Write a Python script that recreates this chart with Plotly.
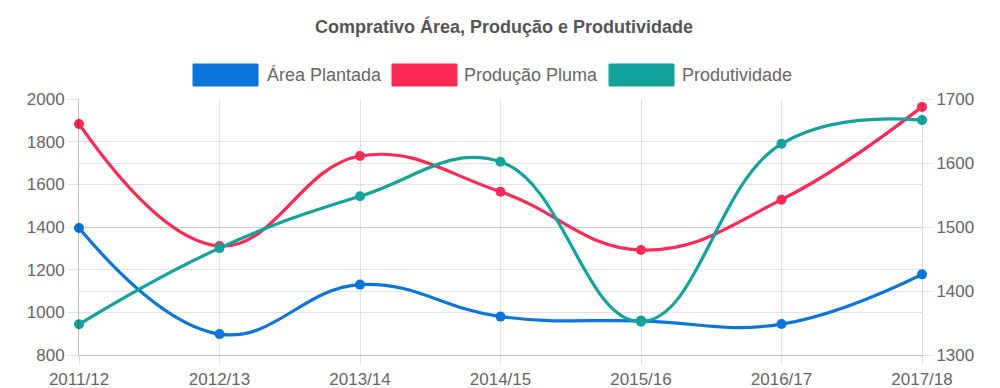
import plotly.graph_objects as go

categories = ["2011/12", "2012/13", "2013/14", "2014/15", "2015/16", "2016/17", "2017/18"]
area_plantada = [1395, 898, 1130, 980, 960, 945, 1178]
producao_pluma = [1883, 1311, 1733, 1565, 1292, 1528, 1963]
produtividade = [1348, 1467, 1548, 1602, 1352, 1630, 1667]

series_names = ["Área Plantada", "Produção Pluma", "Produtividade"]
series_colors = ["#0b75dc", "#fe2a55", "#14a29c"]
title_text = "Comprativo Área, Produção e Produtividade"

OFF = 8  # page body margin
W, H = 1000 - OFF, 388 - OFF
L, T = 79 - OFF, 99 - OFF
R = W - (922 - OFF)
B = H - (355 - OFF)
PW, PH = W - L - R, H - T - B

FONT = "Liberation Sans, Arial, Helvetica, sans-serif"
GRID = "rgba(0,0,0,0.11)"

fig = go.Figure()
for vals, name, color, axis in [
    (area_plantada, series_names[0], series_colors[0], "y"),
    (producao_pluma, series_names[1], series_colors[1], "y"),
    (produtividade, series_names[2], series_colors[2], "y2"),
]:
    fig.add_trace(go.Scatter(
        x=categories, y=vals, name=name, yaxis=axis,
        mode="lines+markers",
        line=dict(color=color, width=3.2, shape="spline", smoothing=1.2),
        marker=dict(color=color, size=10),
        showlegend=False, cliponaxis=False,
    ))

def px_x(p):
    return (p - OFF - L) / PW

def px_y(p):
    return (H - B - (p - OFF)) / PH

# custom legend (boxes + text), page pixel positions
legend_items = [(193, 266), (392, 463), (609, 681)]
shapes = []
annotations = []
for (bx, tx), name, color in zip(legend_items, series_names, series_colors):
    shapes.append(dict(type="rect", xref="paper", yref="paper",
                       x0=px_x(bx), x1=px_x(bx + 65), y0=px_y(86), y1=px_y(64),
                       fillcolor=color, line=dict(color=color, width=1)))
    annotations.append(dict(text=name, xref="paper", yref="paper",
                            x=px_x(tx - 1), y=px_y(75), xanchor="left", yanchor="middle",
                            showarrow=False, font=dict(family=FONT, size=18, color="#666666")))

fig.update_layout(
    width=W, height=H,
    margin=dict(l=L, r=R, t=T, b=B, autoexpand=False),
    paper_bgcolor="white", plot_bgcolor="white",
    title=dict(text="<b>" + title_text + "</b>", x=0.5, xanchor="center",
               y=1 - (27 - OFF) / H, yanchor="middle",
               font=dict(family=FONT, size=18, color="#555555")),
    font=dict(family=FONT, size=17, color="#666666"),
    shapes=shapes, annotations=annotations,
    xaxis=dict(type="category", range=[0, len(categories) - 1],
               showgrid=True, gridcolor=GRID, gridwidth=1,
               ticks="outside", ticklen=9, tickcolor=GRID,
               showline=True, linecolor="rgba(0,0,0,0.25)", linewidth=1,
               zeroline=False, tickfont=dict(size=17, color="#666666")),
    yaxis=dict(range=[800, 2000], dtick=200, showgrid=True, gridcolor=GRID,
               ticks="outside", ticklen=10, tickcolor=GRID,
               showline=True, linecolor="rgba(0,0,0,0.25)", linewidth=1,
               zeroline=False, tickfont=dict(size=17, color="#666666")),
    yaxis2=dict(range=[1300, 1700], dtick=100, overlaying="y", side="right",
                showgrid=True, gridcolor=GRID,
                ticks="outside", ticklen=10, tickcolor=GRID,
                showline=True, linecolor="rgba(0,0,0,0.15)", linewidth=1,
                zeroline=False, tickfont=dict(size=17, color="#666666")),
)

fig.write_html("out.html")
